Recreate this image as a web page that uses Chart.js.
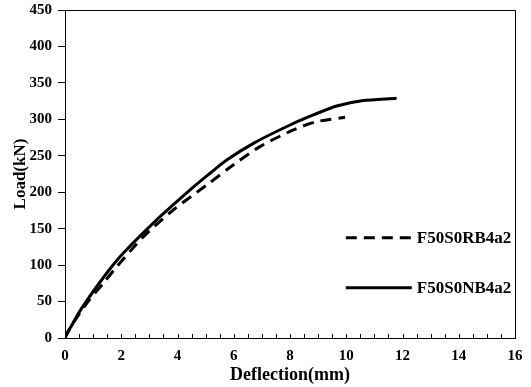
<!DOCTYPE html>
<html><head><meta charset="utf-8">
<script src="https://cdn.jsdelivr.net/npm/chart.js@4/dist/chart.umd.min.js"></script>
<style>html,body{margin:0;padding:0;background:#fff}#w{width:531px;height:387px}</style>
</head><body><div id="w"><canvas id="c" width="531" height="387"></canvas></div>
<script>
const rbX = [0, 0.06, 0.77, 1.36, 1.84, 2.79, 3.85, 5.04, 5.98, 6.93, 8.12, 8.95, 9.96];
const rbY = [0, 6.4, 47.6, 75, 97.8, 139, 175.6, 209.9, 237.3, 262.5, 285.4, 296.8, 302.8];
const nbX = [0, 0.18, 0.59, 1.48, 2.07, 3.38, 4.44, 5.16, 5.75, 6.70, 8.0, 8.83, 9.66, 10.55, 11.79];
const nbY = [0, 13.3, 40.7, 88.8, 116.2, 166.4, 203, 226, 244.2, 267.1, 292.2, 306, 318.3, 325.6, 328.9];
const seriesNames = ['F50S0RB4a2', 'F50S0NB4a2'];
const xTitle = 'Deflection(mm)';
const yTitle = 'Load(kN)';

const pts = (xs, ys) => xs.map((x, i) => ({x, y: ys[i]}));
const serif = 'Liberation Serif, Times New Roman, serif';

const framePlugin = {
  id: 'frame',
  afterDraw(chart) {
    const {ctx, chartArea: a, scales} = chart;
    ctx.save();
    ctx.strokeStyle = '#000';
    ctx.lineWidth = 1;
    ctx.beginPath();
    ctx.moveTo(a.left, a.top + 0.5); ctx.lineTo(a.right + 0.5, a.top + 0.5);
    ctx.lineTo(a.right + 0.5, a.bottom);
    ctx.stroke();
    // inward x ticks
    const xs = scales.x;
    ctx.beginPath();
    xs.ticks.forEach(t => {
      const px = Math.round(xs.getPixelForValue(t.value)) + 0.5;
      ctx.moveTo(px, a.bottom); ctx.lineTo(px, a.bottom - 4);
    });
    ctx.stroke();
    // legend
    const lx0 = a.left + (a.right - a.left) * 0.624;
    const lx1 = lx0 + 66;
    const ys = [a.top + (a.bottom - a.top) * 0.694, a.top + (a.bottom - a.top) * 0.847];
    chart.data.datasets.forEach((ds, i) => {
      ctx.lineWidth = 3;
      ctx.setLineDash(ds.borderDash || []);
      ctx.beginPath();
      ctx.moveTo(lx0, ys[i]); ctx.lineTo(lx1, ys[i]);
      ctx.stroke();
      ctx.setLineDash([]);
      ctx.fillStyle = '#000';
      ctx.font = 'bold 17px ' + serif;
      ctx.textBaseline = 'middle';
      ctx.textAlign = 'left';
      ctx.fillText(ds.label, lx1 + 5, ys[i] + 1);
    });
    ctx.restore();
  }
};

new Chart(document.getElementById('c'), {
  type: 'scatter',
  data: {
    datasets: [
      {label: seriesNames[0], data: pts(rbX, rbY), showLine: true, borderColor: '#000', borderWidth: 3, borderDash: [11, 7], pointRadius: 0, tension: 0.3, fill: false},
      {label: seriesNames[1], data: pts(nbX, nbY), showLine: true, borderColor: '#000', borderWidth: 3, pointRadius: 0, tension: 0.3, fill: false}
    ]
  },
  options: {
    responsive: false,
    animation: false,
    layout: {padding: {top: 10, right: 16, left: 8, bottom: 0}},
    plugins: {legend: {display: false}, tooltip: {enabled: false}},
    scales: {
      x: {
        type: 'linear', min: 0, max: 16,
        afterFit(s) { s.height = 49; s.paddingLeft = 0; s.paddingRight = 0; },
        ticks: {stepSize: 0.5, autoSkip: false, maxRotation: 0, color: '#000', padding: 9,
          font: {family: serif, size: 15, weight: 'bold'},
          callback: v => (Math.abs(v % 2) < 1e-9 ? String(v) : '')},
        grid: {display: true, drawOnChartArea: false, drawTicks: false, color: '#000'},
        border: {display: true, color: '#000', width: 1},
        title: {display: true, text: xTitle, color: '#000', padding: {top: 0, bottom: 1},
          font: {family: serif, size: 18, weight: 'bold'}}
      },
      y: {
        type: 'linear', min: 0, max: 450,
        afterFit(s) { s.width = 57; s.paddingTop = 0; s.paddingBottom = 0; },
        ticks: {stepSize: 50, color: '#000', padding: 6,
          font: {family: serif, size: 15, weight: 'bold'}},
        grid: {display: true, drawOnChartArea: false, drawTicks: true, tickLength: 7, color: '#000'},
        border: {display: true, color: '#000', width: 1},
        title: {display: true, text: yTitle, color: '#000', padding: {top: 2, bottom: 4},
          font: {family: serif, size: 17, weight: 'bold'}}
      }
    }
  },
  plugins: [framePlugin]
});
</script>
</body></html>
